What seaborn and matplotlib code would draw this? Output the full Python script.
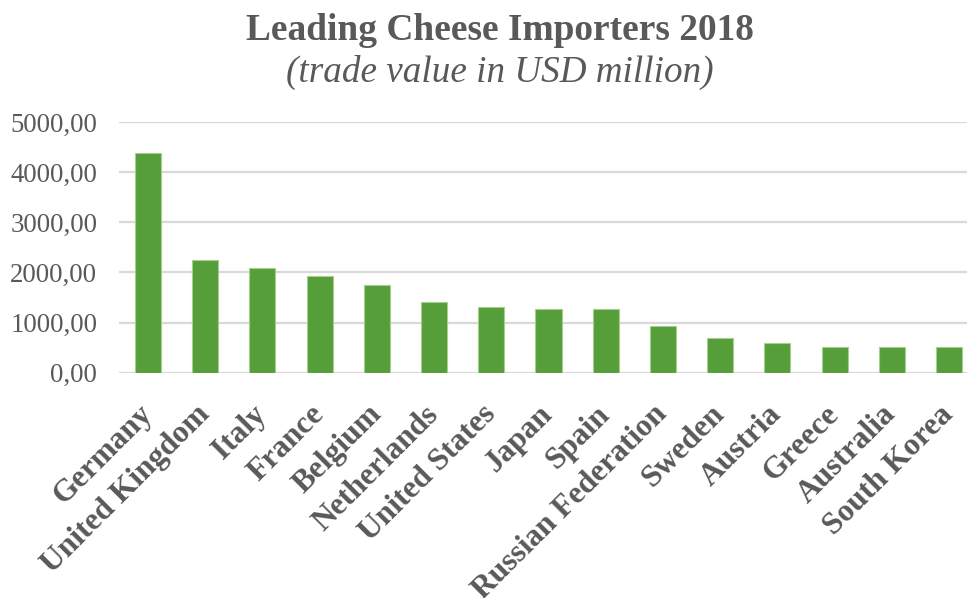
import matplotlib
matplotlib.use("Agg")
import matplotlib.pyplot as plt
import seaborn as sns
import pandas as pd
from matplotlib.ticker import FuncFormatter

countries = ["Germany", "United Kingdom", "Italy", "France", "Belgium",
             "Netherlands", "United States", "Japan", "Spain",
             "Russian Federation", "Sweden", "Austria", "Greece",
             "Australia", "South Korea"]
trade_value = [4380, 2245, 2090, 1935, 1745, 1405, 1305, 1270, 1270,
               940, 700, 588, 518, 505, 503]
y_ticks = [0, 1000, 2000, 3000, 4000, 5000]

title = "Leading Cheese Importers 2018"
subtitle = "(trade value in USD million)"

sns.set_theme(style="white")
plt.rcParams["font.family"] = ["Liberation Serif", "DejaVu Serif"]

TEXT = "#595959"
GRID = "#d9d9d9"
GREEN = "#559e3a"

df = pd.DataFrame({"country": countries, "value": trade_value})

W, H = 967, 598
fig = plt.figure(figsize=(W / 100, H / 100), dpi=100)
left, right = 119.4, 977.6
bottom, top = 372.6, 122.3
ax = fig.add_axes([left / W, 1 - bottom / H, (right - left) / W, (bottom - top) / H])

sns.barplot(data=df, x="country", y="value", color=GREEN, saturation=1,
            width=0.455, edgecolor="#a8d08d", linewidth=0.8, ax=ax, zorder=3)

ax.set_xlim(-0.5, len(countries) - 0.5)
ax.set_ylim(0, 5000)
ax.set_yticks(y_ticks)
ax.yaxis.set_major_formatter(FuncFormatter(lambda v, p: f"{v:.2f}".replace(".", ",")))
ax.grid(axis="y", color=GRID, linewidth=1.6, zorder=0)
ax.grid(axis="x", visible=False)
for s in ax.spines.values():
    s.set_visible(False)
ax.set_xlabel("")
ax.set_ylabel("")
ax.tick_params(axis="y", length=0, pad=16, labelsize=19.3, labelcolor=TEXT)
ax.tick_params(axis="x", length=0, pad=27, labelsize=22.6, labelcolor=TEXT)
for lbl in ax.get_xticklabels():
    lbl.set_rotation(45)
    lbl.set_ha("right")
    lbl.set_va("center")
    lbl.set_rotation_mode("anchor")
    lbl.set_fontweight("bold")

fig.text(499.5 / W, 1 - 40 / H, title, ha="center", va="baseline",
         fontsize=26.9, fontweight="bold", color=TEXT)
fig.text(499.5 / W, 1 - 82 / H, subtitle, ha="center", va="baseline",
         fontsize=26.7, fontstyle="italic", color=TEXT)

fig.savefig("out.png", dpi=100)
